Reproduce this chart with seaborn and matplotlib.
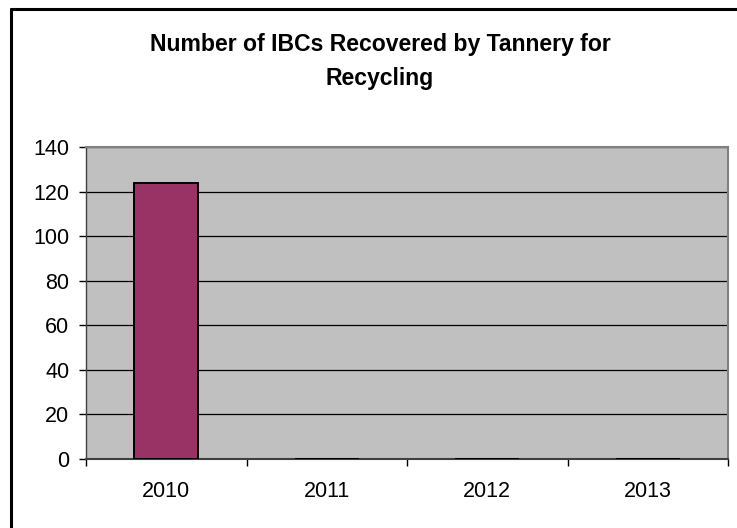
import matplotlib
matplotlib.use("Agg")
import matplotlib.pyplot as plt
from matplotlib.lines import Line2D
import seaborn as sns
import pandas as pd

years = ["2010", "2011", "2012", "2013"]
ibcs_recovered = [124, 0, 0, 0]
y_ticks = [0, 20, 40, 60, 80, 100, 120, 140]

sns.set_theme(style="white")
plt.rcParams["font.family"] = ["Liberation Sans", "DejaVu Sans"]

df = pd.DataFrame({"Year": years, "IBCs": ibcs_recovered})

fig = plt.figure(figsize=(7.37, 5.28), dpi=100)
fig.patch.set_facecolor("white")
ax = fig.add_axes([86 / 737, 1 - 459 / 528, (728 - 86) / 737, (459 - 147) / 528])
ax.set_facecolor("#C0C0C0")

sns.barplot(data=df, x="Year", y="IBCs", color="#993366", width=0.4,
            edgecolor="black", linewidth=1.4, saturation=1, ax=ax, zorder=3)

ax.set_ylim(0, 140)
ax.set_xlim(-0.5, len(years) - 0.5)
ax.set_yticks(y_ticks)
ax.set_yticklabels([str(v) for v in y_ticks], fontsize=15.5, color="black")
ax.yaxis.grid(True, color="black", linewidth=0.9, zorder=1)
ax.set_axisbelow(True)

# category boundaries carry the tick marks, labels sit at the centres
ax.set_xticks([i - 0.5 for i in range(len(years) + 1)])
ax.set_xticklabels([])
ax.set_xticks(range(len(years)), minor=True)
ax.set_xticklabels(years, minor=True, fontsize=15.5, color="black")
ax.tick_params(axis="x", which="major", direction="out", length=5, width=1, color="black", bottom=True)
ax.tick_params(axis="x", which="minor", length=0, pad=16)
ax.tick_params(axis="y", direction="out", length=5, width=1, color="black", left=True, pad=7)

ax.set_xlabel("")
ax.set_ylabel("")

for side in ["top", "right"]:
    ax.spines[side].set_color("#808080")
    ax.spines[side].set_linewidth(1.5)
ax.spines["left"].set_color("#404040")
ax.spines["left"].set_linewidth(1)
ax.spines["bottom"].set_color("#404040")
ax.spines["bottom"].set_linewidth(1.5)

fig.text(380 / 737, 1 - 61.5 / 528,
         "Number of IBCs Recovered by Tannery for\nRecycling",
         ha="center", va="center", fontsize=16.6, fontweight="bold",
         linespacing=1.59, color="black")

# chart frame (top and left edges)
fx, fy = 11 / 737, 1 - 9 / 528
fig.add_artist(Line2D([fx, 1.01], [fy, fy], transform=fig.transFigure, color="black", linewidth=2.2))
fig.add_artist(Line2D([fx, fx], [-0.01, fy], transform=fig.transFigure, color="black", linewidth=2.2))

fig.savefig("out.png", dpi=100)
